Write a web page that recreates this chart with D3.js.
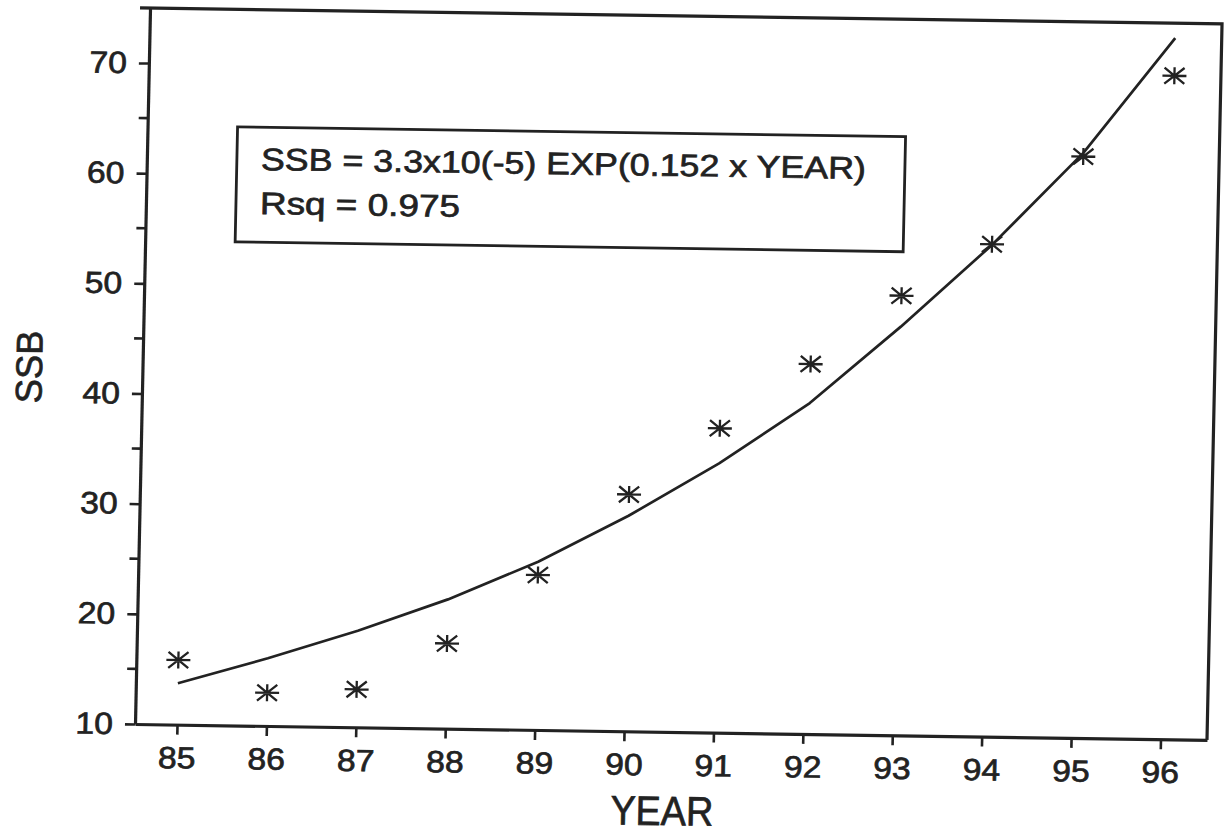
<!DOCTYPE html>
<html>
<head>
<meta charset="utf-8">
<script src="https://cdn.jsdelivr.net/npm/d3@7"></script>
<style>
  html, body { margin: 0; padding: 0; background: #ffffff; }
  svg { display: block; }
</style>
</head>
<body>
<svg id="chart" width="1225" height="834"></svg>
<script>
// Spawning stock biomass by year, with the fitted exponential trend
const years        = [85, 86, 87, 88, 89, 90, 91, 92, 93, 94, 95, 96];
const ssbObserved  = [15.87, 13.01, 13.44, 17.73, 24.06, 31.50, 37.62, 43.57, 49.90, 54.69, 62.77, 70.22];
const ssbFitted    = [13.75, 16.14, 18.76, 21.73, 25.26, 29.56, 34.44, 40.03, 47.09, 54.63, 63.11, 73.64];

// Axis ticks and labels
const xTickYears   = [85, 86, 87, 88, 89, 90, 91, 92, 93, 94, 95, 96];
const yMajorTicks  = [10, 20, 30, 40, 50, 60, 70];
const yMinorTicks  = [15, 25, 35, 45, 55, 65];
const xTitle = "YEAR";
const yTitle = "SSB";
const equationLines = ["SSB = 3.3x10(-5) EXP(0.152 x YEAR)", "Rsq = 0.975"];

const plot = { left: 135, top: 8, right: 1207, bottom: 724 };
const ink = "#222222";
const font = "'Liberation Sans', Arial, Helvetica, sans-serif";

const svg = d3.select("#chart");
svg.append("rect").attr("width", 1225).attr("height", 834).attr("fill", "#ffffff");

// The printed figure sits slightly skewed on the page
const g = svg.append("g")
  .attr("transform", "matrix(1,0.0148,-0.021,1,15.2,-2)");

const x = d3.scaleLinear().domain([84.53, 96.52]).range([plot.left, plot.right]);
const y = d3.scaleLinear().domain([10, 75]).range([plot.bottom, plot.top]);

// Heavier printed lettering
function inkText(sel) {
  sel.attr("fill", ink)
    .attr("stroke", ink)
    .attr("stroke-width", 0.7)
    .style("font-family", font);
}

// Left axis with labelled major ticks
const yAxis = d3.axisLeft(y)
  .tickValues(yMajorTicks)
  .tickSize(10)
  .tickSizeOuter(0)
  .tickPadding(12)
  .tickFormat(d3.format("d"));

const gy = g.append("g")
  .attr("transform", `translate(${plot.left},0)`)
  .call(yAxis);

// Unlabelled minor ticks between the decades
gy.selectAll(".minor")
  .data(yMinorTicks)
  .enter().append("line")
  .attr("class", "minor")
  .attr("x1", -9).attr("x2", 0)
  .attr("y1", d => y(d)).attr("y2", d => y(d));

// Bottom axis with one tick per year
const xAxis = d3.axisBottom(x)
  .tickValues(xTickYears)
  .tickSize(10)
  .tickSizeOuter(0)
  .tickPadding(12)
  .tickFormat(d3.format("d"));

const gx = g.append("g")
  .attr("transform", `translate(0,${plot.bottom})`)
  .call(xAxis);

[gx, gy].forEach(ax => {
  ax.select(".domain").attr("stroke", ink).attr("stroke-width", 3.2);
  ax.selectAll("line").attr("stroke", ink).attr("stroke-width", 2.6);
  ax.selectAll("text")
    .call(inkText)
    .style("font-size", "30.5px")
    .attr("textLength", 37.5)
    .attr("lengthAdjust", "spacingAndGlyphs");
});

// Top and right edges of the frame
g.append("path")
  .attr("d", `M${plot.left - 10},${plot.top}H${plot.right}V${plot.bottom}`)
  .attr("fill", "none")
  .attr("stroke", ink)
  .attr("stroke-width", 3.2);

// Fitted exponential curve
const line = d3.line()
  .x((d, i) => x(years[i]))
  .y(d => y(d))
  .curve(d3.curveLinear);

g.append("path")
  .datum(ssbFitted)
  .attr("d", line)
  .attr("fill", "none")
  .attr("stroke", ink)
  .attr("stroke-width", 2.7)
  .attr("stroke-linejoin", "round");

// Observed values as asterisk markers
const starPath = "M-12,0H12M0,-8.5V8.5M-10,-8L10,8M-10,8L10,-8";
g.append("g")
  .selectAll("path")
  .data(ssbObserved)
  .enter().append("path")
  .attr("transform", (d, i) => `translate(${x(years[i])},${y(d)})`)
  .attr("d", starPath)
  .attr("fill", "none")
  .attr("stroke", ink)
  .attr("stroke-width", 2.3);

// Equation box
g.append("rect")
  .attr("x", 225).attr("y", 125.5)
  .attr("width", 668).attr("height", 115)
  .attr("fill", "none")
  .attr("stroke", ink)
  .attr("stroke-width", 2.8);

const eqLengths = [605, 200];
const eqBaselines = [168.2, 212.2];
g.selectAll(".eq")
  .data(equationLines)
  .enter().append("text")
  .attr("class", "eq")
  .attr("x", 249)
  .attr("y", (d, i) => eqBaselines[i])
  .attr("textLength", (d, i) => eqLengths[i])
  .attr("lengthAdjust", "spacingAndGlyphs")
  .call(inkText)
  .style("font-size", "31px")
  .text(d => d);

// Axis titles
g.append("text")
  .attr("transform", "translate(34.5,368.6) rotate(-90)")
  .attr("text-anchor", "middle")
  .attr("textLength", 73)
  .attr("lengthAdjust", "spacingAndGlyphs")
  .call(inkText)
  .style("font-size", "37px")
  .text(yTitle);

g.append("text")
  .attr("x", 663.6)
  .attr("y", 817.2)
  .attr("text-anchor", "middle")
  .attr("textLength", 103)
  .attr("lengthAdjust", "spacingAndGlyphs")
  .call(inkText)
  .style("font-size", "41px")
  .text(xTitle);
</script>
</body>
</html>
